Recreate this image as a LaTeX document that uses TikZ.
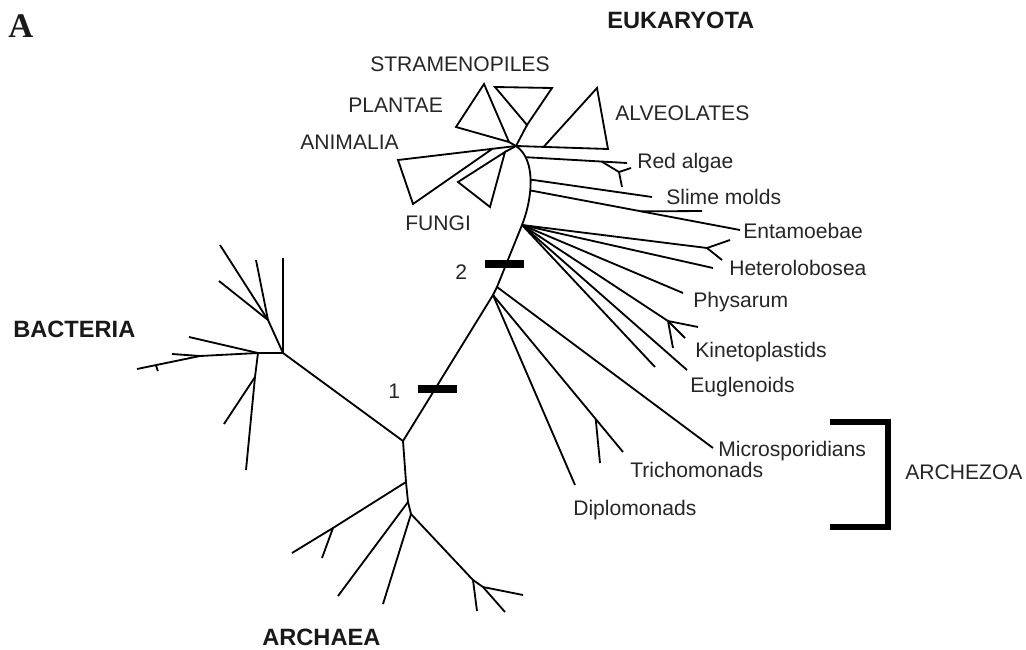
\documentclass[tikz,border=0pt]{standalone}
\usepackage{fontspec}
\setmainfont{Liberation Sans}
\newfontfamily\serifA{Liberation Serif}
\usetikzlibrary{calc}
\begin{document}
\begin{tikzpicture}[x=0.025cm,y=-0.025cm,
  branch/.style={line width=1.3pt,line join=round},
  clade/.style={line width=1.3pt,line join=miter},
  marker/.style={line width=6pt},
  brk/.style={line width=3.6pt,line join=miter},
  lab/.style={anchor=base west,inner sep=0pt,text=black!85,font=\fontsize{15}{18}\selectfont},
  biglab/.style={anchor=base west,inner sep=0pt,text=black!90,font=\fontsize{16.8}{20}\selectfont\bfseries}]
\useasboundingbox (0,0) rectangle (1026,650);

% ---------- main stem ----------
\coordinate (J) at (403,441);
\coordinate (H1) at (283,353);
\coordinate (E2b) at (493,295);
\coordinate (E2a) at (497,287);
\coordinate (S1) at (522,225);
\coordinate (C) at (516,146);
\draw[branch] (J) -- (E2b) -- (E2a) -- (S1) .. controls (532,200) and (537,160) .. (C)
  coordinate[pos=0.8] (R0) coordinate[pos=0.52] (SM0) coordinate[pos=0.4] (EN0);
\draw[branch] (J) -- (H1);

% ---------- bacteria ----------
\coordinate (BT1) at (283,258);
\coordinate (B4) at (268,320);
\coordinate (B4a) at (220,245);
\coordinate (B4b) at (256,260);
\coordinate (B4c) at (219,281);
\coordinate (B2) at (258,353);
\coordinate (B2a) at (189,337);
\coordinate (B3) at (200,356);
\coordinate (B3a) at (172,354);
\coordinate (B3b) at (137,369);
\coordinate (BD) at (255,377);
\coordinate (BDa) at (246,470);
\coordinate (BDb) at (224,424);
\coordinate (T0) at ($(B3)!0.7!(B3b)$);
\coordinate (T1) at ($(T0)+(2,6)$);
\draw[branch] (H1) -- (BT1);
\draw[branch] (H1) -- (B4);
\draw[branch] (B4) -- (B4a);
\draw[branch] (B4) -- (B4b);
\draw[branch] (B4) -- (B4c);
\draw[branch] (H1) -- (B2);
\draw[branch] (B2) -- (B2a);
\draw[branch] (B2) -- (B3);
\draw[branch] (B3) -- (B3a);
\draw[branch] (B3) -- (B3b);
\draw[branch] (T0) -- (T1);
\draw[branch] (B2) -- (BD) -- (BDa);
\draw[branch] (BD) -- (BDb);

% ---------- archaea ----------
\coordinate (A1) at (406,482);
\coordinate (A2) at (408,502);
\coordinate (A3) at (411,514);
\coordinate (A1n) at (333,528);
\coordinate (A1a) at (292,553);
\coordinate (A1b) at (322,558);
\coordinate (A2a) at (338,596);
\coordinate (A3a) at (383,604);
\coordinate (A4) at (473,580);
\coordinate (A4a) at (477,611);
\coordinate (A5) at (483,587);
\coordinate (A5a) at (505,612);
\coordinate (A5b) at (523,595);
\draw[branch] (J) -- (A1) -- (A2) -- (A3);
\draw[branch] (A1) -- (A1n) -- (A1a);
\draw[branch] (A1n) -- (A1b);
\draw[branch] (A2) -- (A2a);
\draw[branch] (A3) -- (A3a);
\draw[branch] (A3) -- (A4) -- (A5) -- (A5a);
\draw[branch] (A4) -- (A4a);
\draw[branch] (A5) -- (A5b);

% ---------- archezoa ----------
\coordinate (ME) at (713,448);
\coordinate (TE) at (623,452);
\coordinate (TF) at ($(E2b)!0.79!(TE)$);
\coordinate (TB) at (600,463);
\coordinate (DE) at (575,485);
\draw[branch] (E2a) -- (ME);
\draw[branch] (E2b) -- (TE);
\draw[branch] (TF) -- (TB);
\draw[branch] (E2b) -- (DE);

% ---------- fan of eukaryotes ----------
\coordinate (HY) at (707,248);
\coordinate (HYa) at (730,240);
\coordinate (HYb) at (722,260);
\coordinate (HE) at (713,268);
\coordinate (PE) at (683,293);
\coordinate (KF) at (668,321);
\coordinate (KFa) at (698,327);
\coordinate (KFb) at (685,338);
\coordinate (KFc) at (673,348);
\coordinate (EU1) at (655,367);
\coordinate (EU2) at (687,370);
\draw[branch] (S1) -- (HY) -- (HYa);
\draw[branch] (HY) -- (HYb);
\draw[branch] (S1) -- (HE);
\draw[branch] (S1) -- (PE);
\draw[branch] (S1) -- (KF) -- (KFa);
\draw[branch] (KF) -- (KFb);
\draw[branch] (KF) -- (KFc);
\draw[branch] (S1) -- (EU1);
\draw[branch] (S1) -- (EU2);

% red algae, slime molds, entamoebae
\coordinate (RE) at (627,163);
\coordinate (RF0) at ($(R0)!0.75!(RE)$);
\coordinate (RF) at (619,172);
\coordinate (RFa) at (631,168);
\coordinate (RFb) at (622,187);
\draw[branch] (R0) -- (RE);
\draw[branch] (RF0) -- (RF) -- (RFa);
\draw[branch] (RF) -- (RFb);
\coordinate (SME) at (652,197);
\draw[branch] (SM0) -- (SME);
\coordinate (ENE) at (740,230);
\coordinate (ENF) at ($(EN0)!0.53!(ENE)$);
\coordinate (ENH) at (702,211);
\draw[branch] (EN0) -- (ENE);
\draw[branch] (ENF) -- (ENH);

% ---------- crown clades ----------
\coordinate (PL0) at (509,142);
\coordinate (PL1) at (456,127);
\coordinate (PL2) at (484,84);
\draw[clade] (C) -- (PL0);
\draw[clade] (PL0) -- (PL1) -- (PL2) -- cycle;
\coordinate (ST0) at (527,125);
\coordinate (ST1) at (495,87);
\coordinate (ST2) at (552,88);
\draw[clade] (C) -- (ST0);
\draw[clade] (ST0) -- (ST1) -- (ST2) -- cycle;
\coordinate (AL2) at (608,149);
\coordinate (AL1) at (597,88);
\coordinate (AL0) at ($(C)!0.3!(AL2)$);
\draw[clade] (C) -- (AL2) -- (AL1) -- (AL0);
\coordinate (AN1) at (398,160);
\coordinate (AN2) at (413,204);
\coordinate (AN0) at ($(C)!0.2!(AN1)$);
\draw[clade] (C) -- (AN1) -- (AN2) -- (AN0);
\coordinate (FU0) at (505,152);
\coordinate (FU1) at (458,182);
\coordinate (FU2) at (490,207);
\draw[clade] (C) -- (FU0);
\draw[clade] (FU0) -- (FU1) -- (FU2) -- cycle;

% ---------- markers ----------
\coordinate (M1a) at (418,389);
\coordinate (M1b) at (457,389);
\coordinate (M2a) at (485,264);
\coordinate (M2b) at (524,264);
\draw[marker] (M1a) -- (M1b);
\draw[marker] (M2a) -- (M2b);

% ---------- archezoa bracket ----------
\coordinate (K1) at (830,422);
\coordinate (K2) at (888,422);
\coordinate (K3) at (888,527);
\coordinate (K4) at (830,527);
\draw[brk] (K1) -- (K2) -- (K3) -- (K4);

% ---------- labels ----------
\node[anchor=base west,inner sep=0pt,text=black!90,font=\serifA\bfseries\fontsize{24.5}{28}\selectfont] (lA) at (8,38) {A};
\node[biglab] (lEuk) at (607,29) {EUKARYOTA};
\node[biglab] (lBac) at (13,337) {BACTERIA};
\node[biglab] (lArc) at (262,645) {ARCHAEA};
\node[lab] (lStr) at (370,72) {STRAMENOPILES};
\node[lab] (lPla) at (348,112) {PLANTAE};
\node[lab] (lAni) at (300,149) {ANIMALIA};
\node[lab] (lFun) at (405,230) {FUNGI};
\node[lab] (lAlv) at (615,121) {ALVEOLATES};
\node[lab] (lRed) at (637,168) {Red algae};
\node[lab] (lSli) at (666,204) {Slime molds};
\node[lab] (lEnt) at (743,238) {Entamoebae};
\node[lab] (lHet) at (729,275) {Heterolobosea};
\node[lab] (lPhy) at (693,307) {Physarum};
\node[lab] (lKin) at (695,357) {Kinetoplastids};
\node[lab] (lEug) at (690,392) {Euglenoids};
\node[lab] (lMic) at (718,456) {Microsporidians};
\node[lab] (lTri) at (630,477) {Trichomonads};
\node[lab] (lDip) at (573,515) {Diplomonads};
\node[lab] (lArz) at (905,479) {ARCHEZOA};
\node[lab] (l1) at (388,398) {1};
\node[lab] (l2) at (455,279) {2};
\end{tikzpicture}
\end{document}
